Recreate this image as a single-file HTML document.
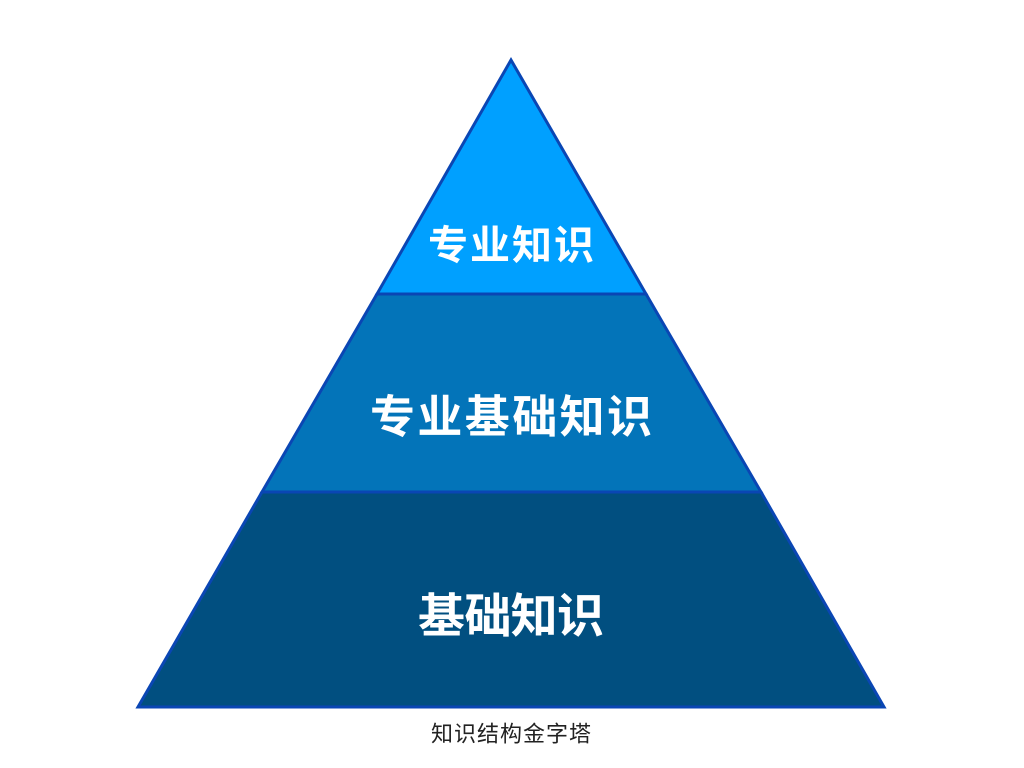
<!DOCTYPE html>
<html>
<head>
<meta charset="utf-8">
<style>
  html,body{margin:0;padding:0;background:#ffffff;}
  body{width:1024px;height:768px;overflow:hidden;}
  svg{display:block;}
</style>
</head>
<body>
<svg width="1024" height="768" viewBox="0 0 1024 768" xmlns="http://www.w3.org/2000/svg">
  <rect width="1024" height="768" fill="#ffffff"/>
  <!-- bottom band -->
  <polygon points="262,492 761,492 884,707 138,707" fill="#014f80" stroke="#0a46b4" stroke-width="3" stroke-linejoin="miter"/>
  <!-- middle band -->
  <polygon points="377,294 646,294 761,492 262,492" fill="#0374b9" stroke="#0a46b4" stroke-width="3" stroke-linejoin="miter"/>
  <!-- top band -->
  <polygon points="511,60 646,294 377,294" fill="#00a0ff" stroke="#0a46b4" stroke-width="3" stroke-linejoin="miter"/>

  <g font-family="'Liberation Sans','Noto Sans CJK SC',sans-serif" fill="#ffffff" font-weight="bold" text-anchor="middle" dominant-baseline="central">
    <text x="511" y="246" font-size="40" textLength="166" lengthAdjust="spacing">专业知识</text>
    <text x="511" y="417" font-size="45" textLength="282" lengthAdjust="spacing">专业基础知识</text>
    <text x="511" y="616" font-size="47" textLength="186" lengthAdjust="spacing">基础知识</text>
  </g>
  <text x="511" y="734" font-family="'Liberation Sans','Noto Sans CJK SC',sans-serif" font-size="22" fill="#222222" text-anchor="middle" dominant-baseline="central" textLength="160" lengthAdjust="spacing">知识结构金字塔</text>
</svg>
</body>
</html>
